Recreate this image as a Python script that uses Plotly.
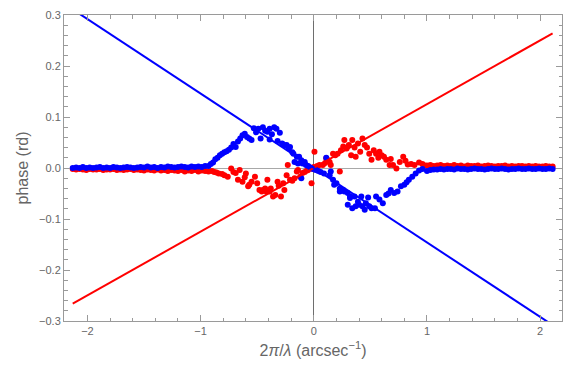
import plotly.graph_objects as go

# Spatial-frequency grids for the flat wings of the phase curves
flat_left_x = [-2.13, -2.10, -2.07, -2.04, -2.01, -1.98, -1.95, -1.92, -1.89, -1.86,
               -1.83, -1.80, -1.77, -1.74, -1.71, -1.68, -1.65, -1.62, -1.59, -1.56,
               -1.53, -1.50, -1.47, -1.44, -1.41, -1.38, -1.35, -1.32, -1.29, -1.26,
               -1.23, -1.20, -1.17, -1.14, -1.11, -1.08, -1.05, -1.02, -0.99, -0.96]
flat_right_x = [1.00, 1.03, 1.06, 1.09, 1.12, 1.15, 1.18, 1.21, 1.24, 1.27,
                1.30, 1.33, 1.36, 1.39, 1.42, 1.45, 1.48, 1.51, 1.54, 1.57,
                1.60, 1.63, 1.66, 1.69, 1.72, 1.75, 1.78, 1.81, 1.84, 1.87,
                1.90, 1.93, 1.96, 1.99, 2.02, 2.05, 2.08, 2.11]

blue_left_y = [0.000, 0.001, 0.000, 0.002, 0.000, 0.001, 0.000, 0.001, 0.002, 0.000,
               0.001, 0.000, 0.002, 0.001, 0.000, 0.001, 0.002, 0.001, 0.000, 0.001,
               0.002, 0.001, 0.003, 0.001, 0.002, 0.000, 0.002, 0.001, 0.003, 0.002,
               0.001, 0.002, 0.003, 0.002, 0.001, 0.003, 0.002, 0.003, 0.002, 0.004]
red_left_y = [-0.002, -0.003, -0.002, -0.003, -0.004, -0.002, -0.003, -0.003, -0.002, -0.004,
              -0.003, -0.003, -0.002, -0.004, -0.003, -0.004, -0.003, -0.002, -0.004, -0.003,
              -0.004, -0.005, -0.003, -0.004, -0.005, -0.003, -0.005, -0.004, -0.006, -0.004,
              -0.005, -0.006, -0.004, -0.007, -0.005, -0.006, -0.004, -0.007, -0.005, -0.006]
blue_right_y = [-0.006, -0.004, -0.003, -0.003, -0.002, -0.003, -0.002, -0.002, -0.003, -0.001,
                -0.002, -0.002, -0.003, -0.002, -0.001, -0.002, -0.002, -0.003, -0.002, -0.001,
                -0.002, -0.002, -0.001, -0.002, -0.003, -0.002, -0.002, -0.001, -0.002, -0.002,
                -0.001, -0.002, -0.002, -0.001, -0.002, -0.002, -0.001, -0.002]
red_right_y = [0.005, 0.006, 0.004, 0.005, 0.006, 0.004, 0.005, 0.004, 0.006, 0.004,
               0.005, 0.003, 0.005, 0.004, 0.004, 0.005, 0.003, 0.004, 0.005, 0.004,
               0.003, 0.004, 0.004, 0.005, 0.003, 0.004, 0.003, 0.004, 0.004, 0.003,
               0.004, 0.003, 0.004, 0.003, 0.003, 0.004, 0.003, 0.003]

# Central (|k| < 1) samples
blue_mid_x = [-0.93, -0.91, -0.89, -0.87, -0.85, -0.83, -0.81, -0.79, -0.77, -0.75,
              -0.73, -0.71, -0.69, -0.67, -0.65, -0.63, -0.61, -0.59, -0.57, -0.55,
              -0.53, -0.51, -0.49, -0.47, -0.45, -0.43, -0.41, -0.39, -0.39, -0.37,
              -0.35, -0.33, -0.32, -0.30, -0.28, -0.27, -0.25, -0.24, -0.22, -0.21,
              -0.19, -0.18, -0.17, -0.15, -0.14, -0.13, -0.11, -0.10, -0.08, -0.07,
              -0.05, -0.11, -0.03, -0.02, 0.00,
              0.01, 0.02, 0.04, 0.06, 0.09, 0.11, 0.14, 0.15, 0.17, 0.18,
              0.20, 0.23, 0.23, 0.26, 0.27, 0.30, 0.30, 0.32, 0.32, 0.34,
              0.36, 0.37, 0.39, 0.40, 0.42, 0.43, 0.45, 0.46, 0.48, 0.49,
              0.51, 0.54, 0.55, 0.58, 0.61, 0.64, 0.66, 0.68, 0.71, 0.74,
              0.77, 0.80, 0.82, 0.84, 0.87, 0.90, 0.93, 0.96]
blue_mid_y = [0.004, 0.008, 0.011, 0.017, 0.020, 0.025, 0.028, 0.031, 0.033, 0.036,
              0.040, 0.047, 0.041, 0.052, 0.058, 0.064, 0.067, 0.061, 0.058, 0.055,
              0.078, 0.070, 0.077, 0.058, 0.080, 0.073, 0.071, 0.077, 0.056, 0.066,
              0.080, 0.077, 0.053, 0.069, 0.048, 0.046, 0.044, 0.045, 0.038, 0.041,
              0.031, 0.028, 0.012, 0.022, 0.009, 0.022, 0.015, 0.009, 0.012, 0.006,
              0.004, -0.020, 0.001, -0.001, -0.002,
              -0.003, -0.004, -0.006, -0.008, -0.011, 0.020, -0.014, -0.007, -0.023, -0.033,
              -0.030, -0.040, -0.046, -0.043, -0.046, -0.049, -0.072, -0.056, -0.059, -0.079,
              -0.056, -0.075, -0.066, -0.072, -0.056, -0.075, -0.082, -0.069, -0.058, -0.075,
              -0.079, -0.079, -0.056, -0.062, -0.069, -0.053, -0.050, -0.043, -0.049, -0.046,
              -0.036, -0.033, -0.028, -0.023, -0.017, -0.011, -0.005, -0.002]

red_mid_x = [-0.93, -0.90, -0.88, -0.86, -0.84, -0.81, -0.79, -0.76, -0.73, -0.71,
             -0.69, -0.67, -0.655, -0.63, -0.61, -0.60, -0.58, -0.57, -0.55, -0.52,
             -0.50, -0.48, -0.46, -0.45, -0.43, -0.42, -0.41, -0.39, -0.38, -0.36,
             -0.34, -0.32, -0.31, -0.29, -0.27, -0.26, -0.24, -0.23, -0.21, -0.19,
             -0.17, -0.15, -0.14, -0.12, -0.10, -0.08, -0.06, -0.05, -0.02, -0.01,
             0.00, 0.006, 0.03, 0.05, 0.08, 0.10, 0.11, 0.12, 0.14, 0.15,
             0.17, 0.19, 0.21, 0.23, 0.24, 0.26, 0.27, 0.29, 0.31, 0.33,
             0.34, 0.36, 0.37, 0.39, 0.41, 0.43, 0.45, 0.47, 0.49, 0.51,
             0.53, 0.55, 0.57, 0.58, 0.60, 0.62, 0.64, 0.67, 0.68, 0.70,
             0.73, 0.76, 0.79, 0.81, 0.83, 0.86, 0.89, 0.93, 0.96, 0.98]
red_mid_y = [-0.007, -0.006, -0.008, -0.009, -0.011, -0.012, -0.014, -0.017, -0.001, -0.008,
             -0.010, -0.023, -0.004, -0.027, -0.018, -0.011, -0.036, -0.033, -0.027, -0.017,
             -0.030, -0.043, -0.046, -0.043, -0.040, -0.046, -0.023, -0.046, -0.040, -0.056,
             -0.053, -0.027, -0.035, -0.056, -0.030, -0.043, -0.014, 0.006, -0.023, -0.025,
             -0.020, -0.007, -0.004, -0.017, -0.010, -0.008, -0.005, -0.004, -0.030, -0.002,
             0.002, 0.032, 0.004, 0.006, 0.006, 0.010, 0.019, 0.016, 0.012, 0.006,
             0.028, 0.025, 0.028, -0.007, 0.035, 0.042, 0.055, 0.038, 0.045, 0.025,
             0.055, 0.040, 0.022, 0.048, 0.032, 0.058, 0.045, 0.040, 0.028, 0.016,
             0.035, 0.028, 0.020, 0.032, 0.025, 0.022, 0.016, 0.006, 0.0175, 0.006,
             -0.001, 0.012, 0.022, 0.014, 0.007, 0.008, 0.006, 0.011, 0.008, 0.005]

# Linear phase fits (end points)
fit_x = [-2.13, 2.11]
red_fit = [-0.266, 0.264]
blue_fit = [0.311, -0.308]

red_x = flat_left_x + red_mid_x + flat_right_x
red_y = red_left_y + red_mid_y + red_right_y
blue_x = flat_left_x + blue_mid_x + flat_right_x
blue_y = blue_left_y + blue_mid_y + blue_right_y

RED = "#ff0000"
BLUE = "#0000ff"

fig = go.Figure()
fig.add_trace(go.Scatter(x=red_x, y=red_y, mode="markers",
                         marker=dict(color=RED, size=6, line=dict(width=0))))
fig.add_trace(go.Scatter(x=blue_x, y=blue_y, mode="markers",
                         marker=dict(color=BLUE, size=6, line=dict(width=0))))
fig.add_trace(go.Scatter(x=fit_x, y=red_fit, mode="lines",
                         line=dict(color=RED, width=2)))
fig.add_trace(go.Scatter(x=fit_x, y=blue_fit, mode="lines",
                         line=dict(color=BLUE, width=2)))

frame = "#9a9a9a"
label = "#666666"
font_family = "Liberation Sans, Arial, sans-serif"

fig.update_layout(
    width=572, height=370,
    margin=dict(l=64, r=9, t=12, b=49),
    paper_bgcolor="white", plot_bgcolor="white",
    showlegend=False,
    font=dict(family=font_family, color=label, size=11),
)
fig.update_xaxes(
    range=[-2.207, 2.193],
    tickmode="array", tickvals=[-2, -1, 0, 1, 2],
    ticktext=["\u22122", "\u22121", "0", "1", "2"],
    ticks="inside", ticklen=6, tickcolor=frame, tickwidth=1,
    minor=dict(dtick=0.2, tick0=0, ticks="inside", ticklen=3.5, tickcolor=frame, showgrid=False),
    showline=True, linecolor=frame, linewidth=1, mirror="allticks",
    showgrid=False,
    zeroline=True, zerolinecolor="#6e6e6e", zerolinewidth=1,
    tickfont=dict(size=11, color=label),
    title=dict(text="2<i>\u03c0</i>/<i>\u03bb</i> (arcsec<sup>\u22121</sup>)",
               font=dict(size=16, color=label), standoff=8),
)
fig.update_yaxes(
    range=[-0.3, 0.3],
    tickmode="array", tickvals=[-0.3, -0.2, -0.1, 0, 0.1, 0.2, 0.3],
    ticktext=["\u22120.3", "\u22120.2", "\u22120.1", "0.0", "0.1", "0.2", "0.3"],
    ticks="inside", ticklen=6, tickcolor=frame, tickwidth=1,
    minor=dict(dtick=0.02, tick0=0, ticks="inside", ticklen=3.5, tickcolor=frame, showgrid=False),
    showline=True, linecolor=frame, linewidth=1, mirror="allticks",
    showgrid=False,
    zeroline=True, zerolinecolor="#a8a8a8", zerolinewidth=1,
    tickfont=dict(size=11, color=label),
    title=dict(text="phase (rd)", font=dict(size=16, color=label), standoff=6),
)

fig.write_html("out.html")
